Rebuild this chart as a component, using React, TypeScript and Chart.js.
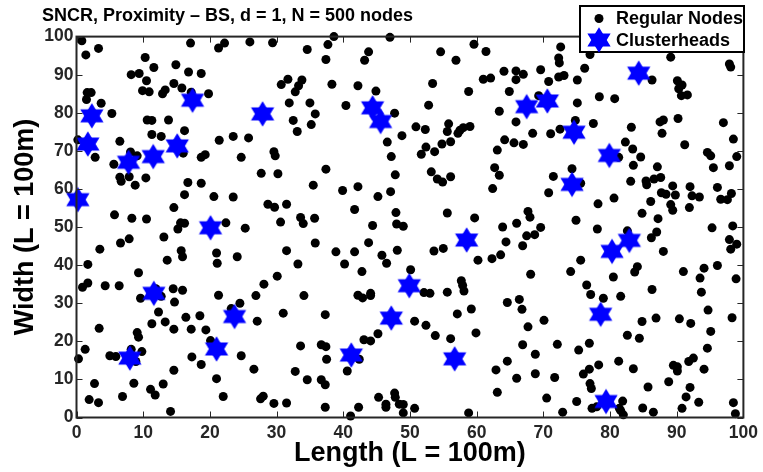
import React, { useEffect, useRef } from "react";
import { Chart, registerables } from "chart.js";

Chart.register(...registerables);

const chartTitle = "SNCR, Proximity \u2013 BS, d = 1, N = 500 nodes";
const xAxisTitle = "Length (L = 100m)";
const yAxisTitle = "Width (L = 100m)";
const seriesNames = ["Regular Nodes", "Clusterheads"];

const regularNodes: [number, number][] = [
  [0.8,98.9],[1.4,95.2],[3.3,96.9],[10.3,94.5],[8.2,90.0],[9.4,90.3],[11.6,91.9],[10.5,88.4],[9.9,85.8],[10.9,85.5],
  [14.9,92.6],[16.8,90.7],[18.7,90.3],[14.6,87.7],[15.8,86.5],[13.3,86.0],[12.9,85.0],[17.2,85.4],[19.8,85.0],[17.1,98.3],
  [21.3,97.0],[22.2,98.3],[26.0,98.6],[1.6,85.3],[2.2,85.3],[1.5,83.5],[3.7,82.5],[5.3,79.8],[10.6,78.1],[11.3,78.0],
  [13.8,78.1],[16.2,75.3],[11.3,74.3],[12.7,73.8],[0.2,72.9],[6.5,72.5],[21.4,72.8],[23.5,73.8],[25.8,73.4],[8.1,69.7],
  [9.1,68.7],[2.8,68.3],[16.0,69.4],[18.7,68.3],[19.3,69.0],[24.7,68.3],
  [29.4,98.4],[34.6,96.6],[37.7,97.9],[38.6,100],[37.4,94.0],[47.0,99.8],[43.8,96.0],[43.2,93.8],[54.6,96.0],[56.9,93.8],
  [59.6,98.0],[61.4,96.1],[64.1,90.9],[61.0,88.8],[62.1,89.1],[53.4,87.7],[58.8,85.6],[64.9,85.6],[30.7,87.4],[31.7,88.8],
  [33.8,88.6],[33.3,87.1],[32.8,85.5],[38.3,87.5],[42.2,87.1],[44.9,85.7],[31.9,82.6],[35.0,82.6],[40.4,81.9],[35.8,79.7],
  [32.5,78.0],[35.2,76.9],[33.1,75.1],[47.7,79.9],[52.8,82.0],[63.4,80.4],[55.8,77.1],[55.6,75.1],[50.9,76.3],[52.3,75.6],
  [59.0,76.4],[58.0,76.1],[57.5,75.4],[57.2,74.6],[56.1,72.4],[54.8,71.8],[52.4,71.0],[53.7,69.8],[51.7,69.1],[64.2,72.9],
  [63.1,70.2],[48.8,74.0],[46.6,72.3],[47.2,68.5],[29.6,69.8],[29.8,68.7],
  [72.6,97.3],[72.3,94.4],[72.4,93.1],[77.0,95.3],[89.1,94.6],[97.9,92.8],[98.1,92.0],[65.9,91.0],[67.0,90.1],[65.9,88.7],
  [69.6,91.3],[72.3,89.4],[73.1,89.8],[76.2,91.7],[75.1,88.6],[70.8,88.2],[86.3,88.6],[90.1,88.4],[90.8,87.3],[90.3,86.3],
  [90.7,84.5],[91.6,84.7],[78.4,84.2],[80.7,83.7],[69.3,84.5],[75.1,82.6],[74.8,78.0],[65.9,77.6],[77.5,77.2],[72.5,75.7],
  [83.2,76.2],[87.5,77.6],[88.0,78.1],[90.2,78.5],[97.0,77.4],[68.4,74.6],[71.1,74.5],[87.8,74.6],[65.6,72.1],[67.0,71.7],
  [82.3,72.3],[83.4,70.5],[91.2,71.6],[98.5,73.1],[84.6,68.4],[81.3,68.3],[94.6,69.6],[95.1,68.7],[99.0,68.5],
  [5.6,66.5],[6.5,63.1],[6.7,62.0],[7.9,63.2],[8.8,61.0],[10.4,62.9],[16.7,61.7],[18.7,61.5],[16.2,58.5],[27.7,64.1],
  [30.2,64.0],[20.6,58.0],[23.5,57.9],[28.7,56.0],[29.7,55.2],[31.5,56.0],[14.6,55.1],[5.7,53.2],[8.3,52.3],[10.5,52.1],
  [16.2,51.0],[15.6,51.1],[15.2,49.5],[22.4,51.1],[25.3,49.7],[30.6,51.3],[13.1,47.4],[7.9,46.9],[6.6,45.8],[3.5,44.2],
  [15.7,43.8],[15.9,42.2],[13.6,41.3],[21.0,43.2],[21.1,40.5],[24.1,42.2],[31.5,43.8],[1.7,40.2],[9.3,38.0],[30.1,37.1],
  [28.1,35.0],[26.9,32.0],[21.3,32.1],[1.7,35.3],[0.9,34.2],[4.3,34.6],[6.4,34.6],[14.5,33.8],[15.9,33.4],[9.6,31.3],
  [12.7,31.8],[14.7,30.3],[11.9,33.8],
  [37.4,65.2],[35.5,61.0],[39.9,59.6],[42.2,60.6],[45.2,58.0],[47.1,59.3],[47.8,63.7],[53.2,64.5],[54.1,62.6],[54.9,61.8],
  [56.1,63.2],[62.7,65.6],[63.4,63.6],[62.4,60.1],[33.6,52.5],[34.0,50.9],[35.7,52.3],[41.7,54.6],[47.9,53.8],[44.4,50.4],
  [48.0,50.8],[49.0,50.2],[55.6,53.7],[59.7,52.4],[63.9,50.0],[66.0,51.0],[64.4,46.1],[35.8,45.8],[43.8,45.9],[38.9,43.5],
  [41.7,43.5],[48.1,43.9],[45.8,42.6],[46.5,40.5],[40.2,40.3],[33.2,40.3],[42.8,38.3],[50.1,38.8],[53.6,43.7],[55.0,44.4],
  [60.2,41.3],[62.3,41.7],[63.6,42.7],[57.7,35.9],[57.9,34.7],[58.1,33.2],[55.6,32.9],[52.1,32.8],[53.0,32.6],[34.1,32.0],
  [42.2,32.1],[42.9,31.4],[44.1,32.6],[44.1,32.0],
  [83.5,66.2],[87.1,65.8],[95.5,65.6],[97.9,66.1],[74.3,65.3],[71.5,63.3],[75.6,61.5],[70.8,59.0],[83.1,62.0],[85.4,62.1],
  [85.5,61.1],[86.6,62.6],[87.6,63.0],[89.4,60.8],[92.0,60.6],[96.1,60.4],[87.7,59.0],[88.4,58.6],[89.8,58.4],[92.3,58.2],
  [93.4,57.9],[98.2,58.8],[96.6,57.3],[97.6,57.2],[80.6,57.6],[78.2,56.1],[86.1,56.7],[89.1,55.9],[89.4,54.4],[91.9,55.1],
  [84.8,53.6],[87.2,52.2],[74.9,51.8],[67.7,54.1],[68.0,52.6],[69.6,49.9],[67.5,47.7],[68.7,48.0],[66.9,45.1],[78.1,49.5],
  [82.6,49.0],[87.0,48.7],[86.2,47.2],[95.3,49.8],[98.4,50.3],[97.9,46.7],[99.0,45.5],[98.1,44.2],[88.0,43.6],[75.6,41.3],
  [84.1,39.6],[83.7,38.2],[74.1,38.3],[68.1,37.6],[80.5,36.9],[91.0,38.3],[94.1,39.2],[96.1,39.9],[93.5,36.6],[98.9,36.4],
  [76.5,34.8],[77.1,32.3],[79.0,31.3],[81.6,31.8],[86.3,33.6],[93.7,32.9],[66.4,31.0],
  [12.3,27.7],[24.5,30.0],[23.2,28.6],[16.4,26.3],[18.5,26.7],[13.3,25.1],[11.3,24.6],[27.1,25.3],[31.0,27.4],[3.4,23.4],
  [14.6,23.2],[17.2,23.2],[19.4,23.0],[9.1,22.3],[9.3,21.1],[20.1,20.2],[1.3,17.9],[0.3,15.4],[5.0,16.2],[5.9,16.0],
  [8.2,17.9],[9.8,17.3],[8.9,14.7],[17.3,15.9],[24.7,16.2],[18.7,13.9],[14.6,12.4],[26.6,12.7],[21.0,10.2],[2.7,8.9],
  [8.6,9.0],[13.0,8.8],[11.1,7.4],[11.8,5.9],[6.9,5.5],[1.9,4.7],[3.3,3.9],[22.0,5.5],[28.0,5.6],[27.6,4.9],
  [29.6,3.7],[31.5,3.8],[14.1,1.6],
  [37.3,27.0],[33.6,18.8],[36.7,19.1],[37.4,18.6],[37.5,15.3],[32.8,12.1],[34.6,9.9],[36.7,9.9],[37.3,8.6],[37.3,2.7],
  [40.6,12.2],[41.1,0.4],[42.3,2.7],[42.4,15.3],[43.1,20.4],[44.1,20.1],[45.2,22.0],[50.7,25.3],[52.4,24.2],[53.8,21.5],
  [56.1,20.7],[59.9,22.2],[57.1,27.2],[59.2,28.5],[64.6,30.2],[62.9,12.5],[64.6,14.8],[66.0,10.3],[63.1,6.6],[45.3,5.3],
  [47.7,6.4],[47.8,5.3],[46.4,3.5],[46.4,2.7],[48.4,3.5],[49.0,3.4],[49.0,1.2],[50.7,2.4],[58.8,1.2],
  [66.8,28.4],[70.1,25.5],[67.7,23.8],[66.9,19.1],[72.1,19.2],[68.8,16.6],[75.3,17.7],[76.9,19.5],[68.8,11.5],[71.7,10.5],
  [76.0,11.4],[76.9,12.7],[78.3,13.8],[81.3,14.8],[83.5,12.8],[82.6,21.6],[84.4,20.8],[84.8,25.2],[86.9,26.1],[90.4,25.9],
  [92.1,24.7],[94.7,28.2],[98.3,26.2],[95.1,22.6],[94.6,18.2],[92.5,15.6],[91.8,14.7],[89.5,13.7],[90.1,13.3],[90.1,12.2],
  [94.1,12.7],[88.8,9.4],[77.0,8.9],[77.2,7.6],[85.7,8.0],[92.0,7.9],[91.4,5.4],[93.3,4.0],[98.5,3.9],[98.8,1.0],
  [70.5,5.1],[75.0,4.2],[72.9,1.4],[77.3,2.4],[78.0,2.8],[81.9,4.3],[81.4,2.4],[81.6,1.8],[82.0,0.7],[84.9,2.5],
  [86.5,1.4],[90.8,2.4],
];

const clusterHeads: [number, number][] = [
  [2.3,79.2],[1.7,71.8],[17.4,83.3],[7.8,67.0],[11.5,68.5],[15.1,71.3],[27.9,79.7],[44.4,81.3],[45.6,77.7],[67.5,81.6],
  [70.6,83.1],[84.3,90.4],[74.6,74.9],[79.9,68.8],[0.2,57.2],[20.1,49.8],[11.6,32.6],[58.5,46.6],[49.9,34.6],[74.3,61.2],
  [82.9,46.5],[80.3,43.6],[8.0,15.6],[21.0,18.0],[23.7,26.5],[47.2,26.1],[41.2,16.4],[56.7,15.4],[78.6,27.1],[79.4,4.2],
];

const FONT = "'Liberation Sans', Arial, sans-serif";
const INK = "#000000";
const FRAME = "#262626";
const BLUE = "#0000ff";

function makeHexagram(): HTMLCanvasElement {
  const c = document.createElement("canvas");
  c.width = 26;
  c.height = 28;
  const g = c.getContext("2d")!;
  const R = 12.8;
  const tri = (a: number) => {
    g.beginPath();
    for (let i = 0; i < 3; i++) {
      const t = a + (i * 2 * Math.PI) / 3;
      const px = 13 + 1.05 * R * Math.sin(t);
      const py = 14 - R * Math.cos(t);
      if (i === 0) g.moveTo(px, py);
      else g.lineTo(px, py);
    }
    g.closePath();
    g.fill();
  };
  g.fillStyle = BLUE;
  tri(0);
  tri(Math.PI);
  return c;
}

export default function App() {
  const ref = useRef<HTMLCanvasElement>(null);
  useEffect(() => {
    const star = makeHexagram();
    const framePlugin = {
      id: "frameAndTicks",
      beforeDraw(chart: any) {
        chart.titleBlock.left = 42;
        chart.titleBlock.right = 740;
      },
      afterDatasetsDraw(chart: any) {
        const { ctx, chartArea: a, scales } = chart;
        ctx.save();
        ctx.strokeStyle = FRAME;
        ctx.lineWidth = 1;
        ctx.beginPath();
        for (const t of scales.x.ticks) {
          const px = Math.round(scales.x.getPixelForValue(t.value)) + 0.5;
          ctx.moveTo(px, a.bottom);
          ctx.lineTo(px, a.bottom - 6);
          ctx.moveTo(px, a.top);
          ctx.lineTo(px, a.top + 6);
        }
        for (const t of scales.y.ticks) {
          const py = Math.round(scales.y.getPixelForValue(t.value)) + 0.5;
          ctx.moveTo(a.left, py);
          ctx.lineTo(a.left + 6, py);
          ctx.moveTo(a.right, py);
          ctx.lineTo(a.right - 6, py);
        }
        ctx.stroke();
        ctx.lineWidth = 2;
        ctx.strokeRect(a.left, a.top, a.right - a.left, a.bottom - a.top);
        ctx.restore();
      },
      afterDraw(chart: any) {
        const { ctx } = chart;
        ctx.save();
        ctx.fillStyle = "#ffffff";
        ctx.strokeStyle = "#000000";
        ctx.lineWidth = 2;
        ctx.fillRect(580, 6, 164, 46);
        ctx.strokeRect(580, 6, 164, 46);
        ctx.fillStyle = INK;
        ctx.font = "bold 18px " + FONT;
        ctx.textBaseline = "middle";
        ctx.textAlign = "left";
        ctx.fillText(chart.data.datasets[0].label, 616, 19.5);
        ctx.fillText(chart.data.datasets[1].label, 616, 41.5);
        ctx.beginPath();
        ctx.arc(599, 18.5, 4.5, 0, Math.PI * 2);
        ctx.fill();
        ctx.drawImage(star, 599 - 13, 40 - 14);
        ctx.restore();
      },
    };
    const axisTicks = {
      autoSkip: false,
      maxRotation: 0,
      color: FRAME,
      stepSize: 10,
      font: { family: FONT, size: 17.5, weight: "bold" as const },
    };
    const chart = new Chart(ref.current!, {
      type: "scatter",
      data: {
        datasets: [
          {
            label: seriesNames[0],
            data: regularNodes.map(([x, y]) => ({ x, y })),
            pointRadius: 4.5,
            pointBackgroundColor: "#000000",
            pointBorderWidth: 0,
            order: 2,
            clip: false,
          },
          {
            label: seriesNames[1],
            data: clusterHeads.map(([x, y]) => ({ x, y })),
            pointStyle: star,
            pointRadius: 12,
            pointBackgroundColor: BLUE,
            pointBorderWidth: 0,
            order: 1,
            clip: false,
          },
        ],
      },
      options: {
        animation: false,
        responsive: false,
        layout: { padding: { left: 0, right: 16, top: 0, bottom: 0 } },
        plugins: {
          legend: { display: false },
          tooltip: { enabled: false },
          title: {
            display: true,
            text: chartTitle,
            align: "start",
            color: INK,
            font: { family: FONT, size: 18, weight: "bold" },
            padding: { top: 5, bottom: 10 },
          },
        },
        scales: {
          x: {
            type: "linear",
            min: 0,
            max: 100,
            grid: { display: false, drawTicks: false },
            border: { display: false },
            ticks: { ...axisTicks, padding: 5 },
            title: {
              display: true,
              text: xAxisTitle,
              color: INK,
              font: { family: FONT, size: 27, weight: "bold" },
              padding: { top: 0, bottom: 2 },
            },
            afterFit(s: any) {
              s.height = 54.5;
            },
          },
          y: {
            type: "linear",
            min: 0,
            max: 100,
            grid: { display: false, drawTicks: false },
            border: { display: false },
            ticks: { ...axisTicks, padding: 3 },
            title: {
              display: true,
              text: yAxisTitle,
              color: INK,
              font: { family: FONT, size: 27, weight: "bold" },
              padding: { top: 9, bottom: 0 },
            },
            afterFit(s: any) {
              s.width = 76.5;
            },
          },
        },
      },
      plugins: [framePlugin],
    } as any);
    return () => chart.destroy();
  }, []);
  return (
    <div style={{ position: "absolute", left: 0, top: 0, width: 763, height: 472, background: "#fff" }}>
      <canvas ref={ref} width={763} height={472} style={{ display: "block" }} />
    </div>
  );
}
